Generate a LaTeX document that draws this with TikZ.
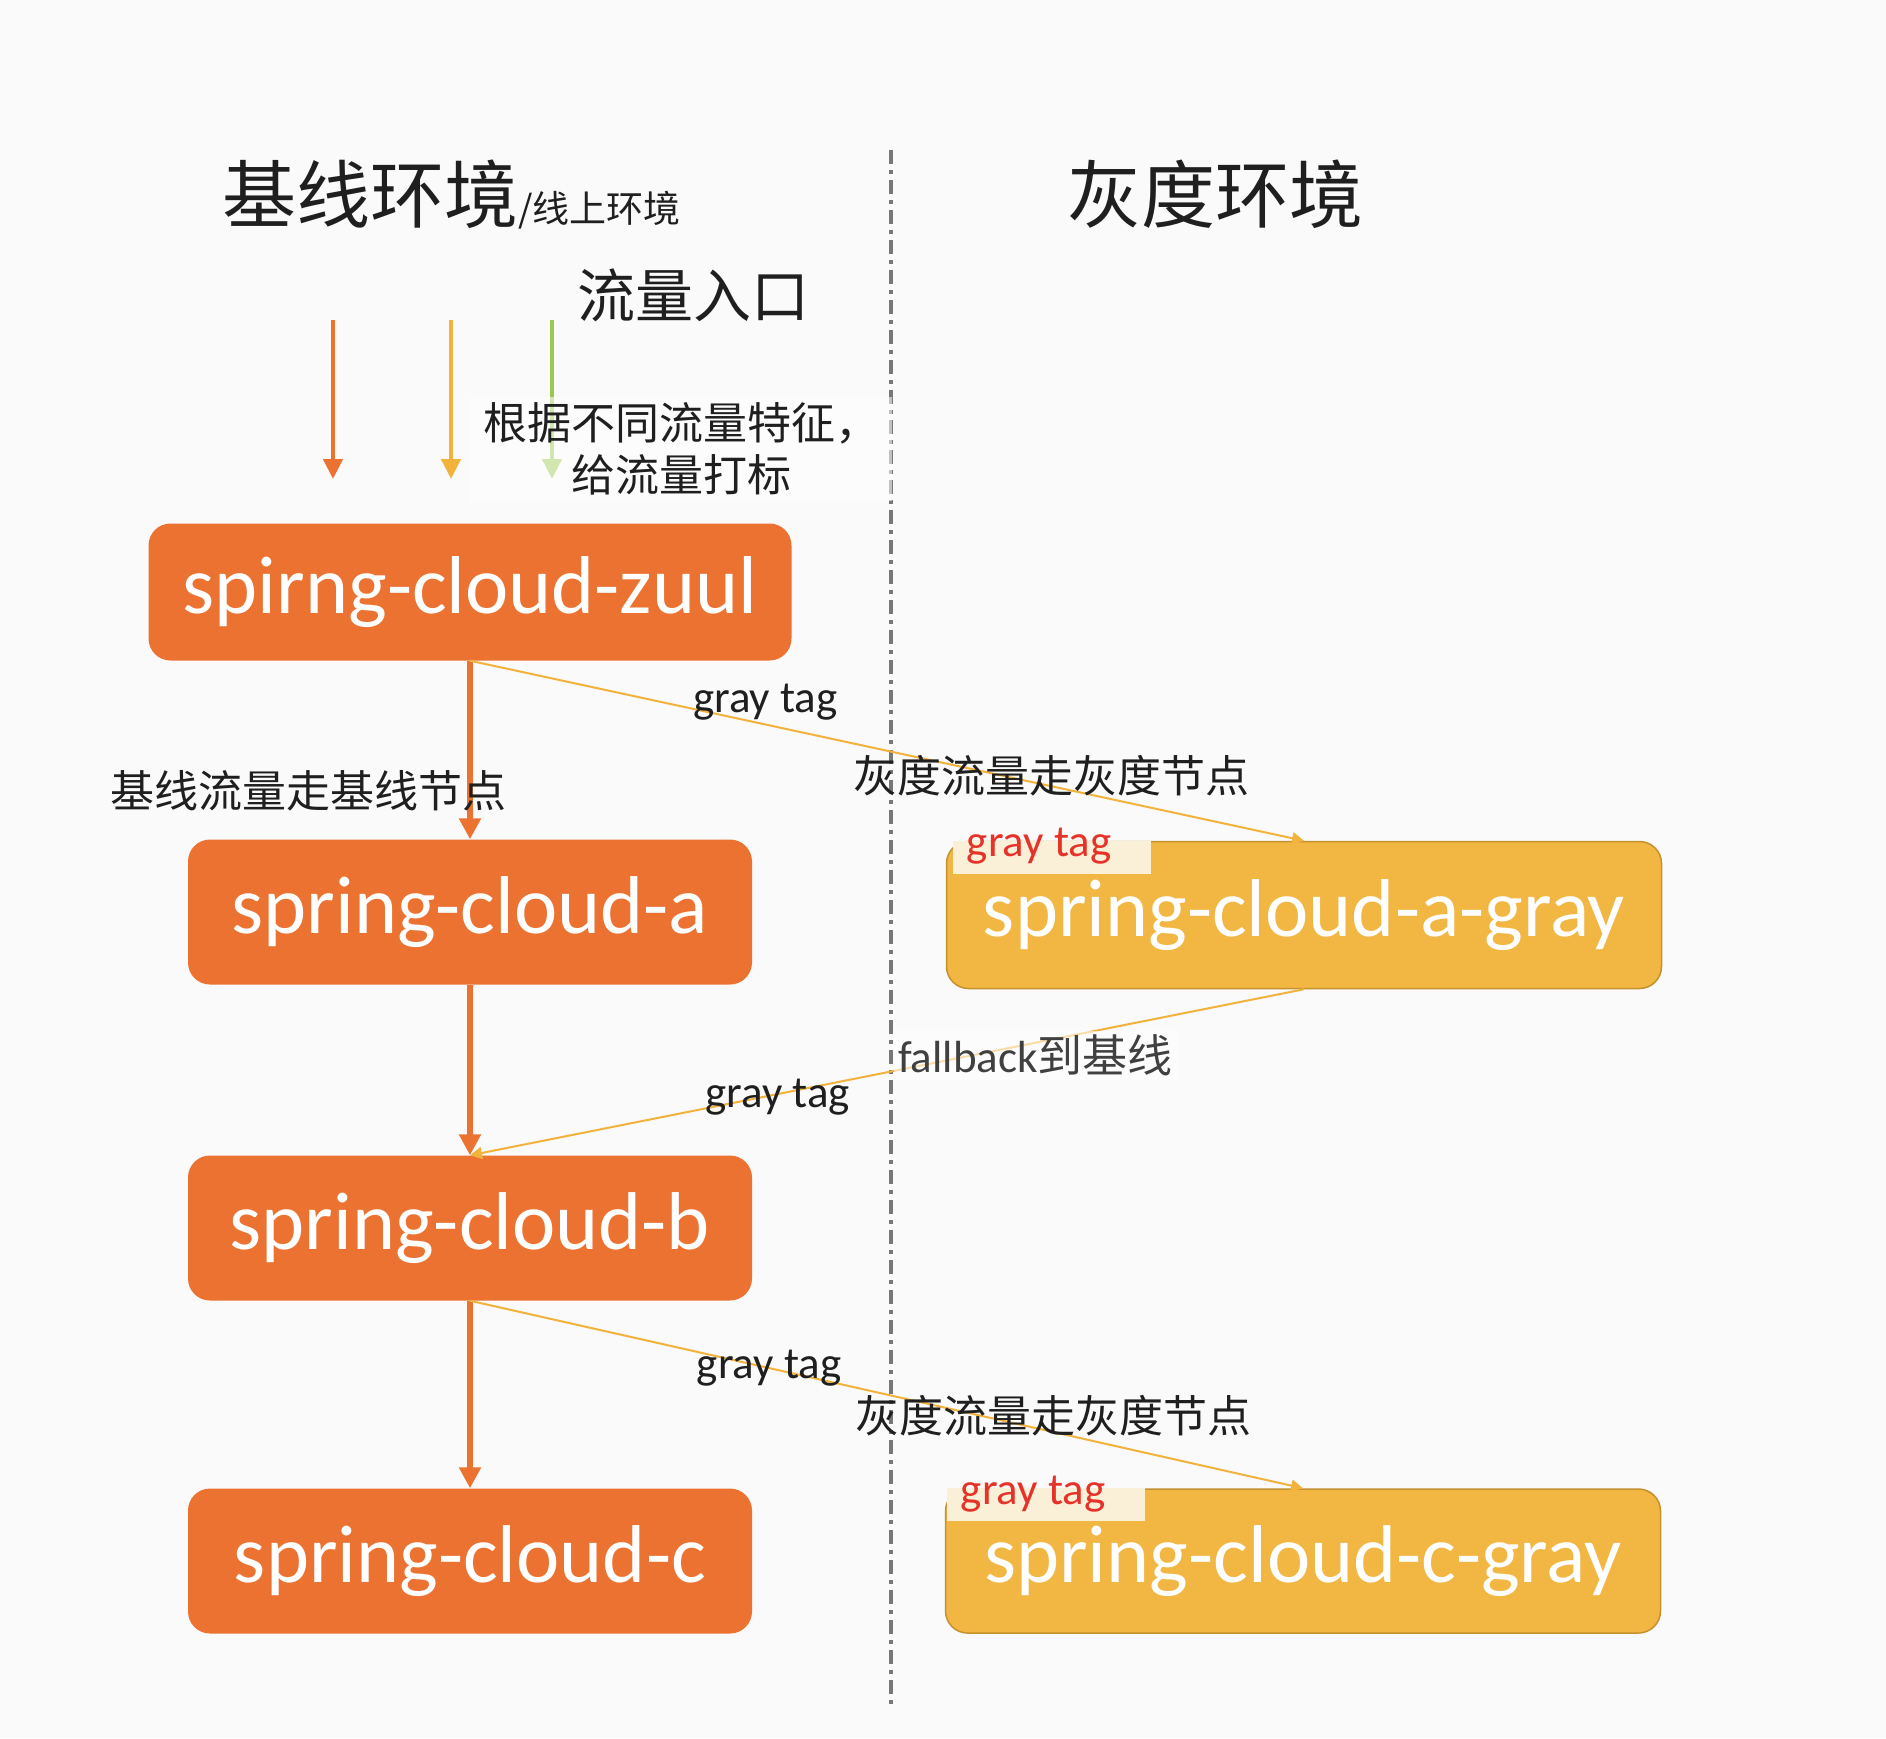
\documentclass[tikz,border=0pt]{standalone}
\usepackage{fontspec}
\setmainfont{Carlito}
\newfontfamily\cjk{Noto Sans CJK SC}
\usetikzlibrary{arrows.meta}

\definecolor{baseorange}{HTML}{EC7232}
\definecolor{grayfill}{HTML}{F2B643}
\definecolor{grayedge}{HTML}{C4922E}
\definecolor{tagfill}{HTML}{FAF0D8}
\definecolor{tagred}{HTML}{E5332A}
\definecolor{leafgreen}{HTML}{9CC850}
\definecolor{lineyellow}{HTML}{F2B33D}
\definecolor{bgwhite}{HTML}{FAFAFA}
\definecolor{splitgray}{HTML}{777777}

\tikzset{
  basebox/.style={rectangle, rounded corners=22pt, fill=baseorange, text=white,
    font=\fontsize{82}{90}\selectfont, minimum width=564pt, minimum height=145pt, inner sep=0pt},
  graybox/.style={basebox, fill=grayfill, draw=grayedge, line width=1.5pt, minimum width=715pt},
  tagbox/.style={rectangle, fill=tagfill, anchor=north west, minimum width=198pt, minimum height=33pt, inner sep=0pt},
  tagtext/.style={text=tagred, anchor=west, font=\fontsize{45}{50}\selectfont, inner sep=0pt},
  lbl/.style={font=\cjk\fontsize{44}{52}\selectfont, text=black!88},
  taglbl/.style={font=\fontsize{45}{50}\selectfont, text=black!88},
  mainflow/.style={baseorange, line width=6pt, -{Triangle[width=21pt,length=21pt]}},
  grayflow/.style={lineyellow, line width=2pt, -{Triangle[width=12pt,length=12pt]}}
}

\begin{document}
\begin{tikzpicture}[x=1pt, y=-1pt]
  \fill[bgwhite] (0,0) rectangle (1886,1738);

  % titles
  \node[anchor=base west, inner sep=0pt, text=black!88] (basetitle) at (222,222)
    {\cjk\fontsize{74}{80}\selectfont 基线环境\fontsize{37}{40}\selectfont /线上环境};
  \node[anchor=base west, inner sep=0pt, text=black!88] (graytitle) at (1067,222)
    {\cjk\fontsize{74}{80}\selectfont 灰度环境};
  \node[anchor=west, inner sep=0pt, text=black!88] (entry) at (577,295)
    {\cjk\fontsize{58}{64}\selectfont 流量入口};

  % split line
  \coordinate (top) at (891,150);
  \coordinate (bottom) at (891,1708);
  \draw[splitgray, line width=3.5pt, dash pattern=on 14pt off 6pt on 4pt off 6pt] (top) -- (bottom);

  % traffic in
  \foreach \x/\c [count=\i] in {333/baseorange, 451/lineyellow, 552/leafgreen} {
    \coordinate (in\i) at (\x,320);
    \coordinate (out\i) at (\x,479);
    \draw[\c, line width=4.5pt, -{Triangle[width=19pt,length=20pt]}] (in\i) -- (out\i);
  }
  \node[lbl, align=center, text width=410pt, inner sep=6pt, fill=white, fill opacity=0.55, text opacity=1] (mark) at (681,449)
    {根据不同流量特征，\\给流量打标};

  % nodes
  \node[basebox, minimum width=643pt, minimum height=137pt] (zuul) at (470,592) {spirng-cloud-zuul};
  \node[basebox] (a) at (470,912) {spring-cloud-a};
  \node[basebox] (b) at (470,1228) {spring-cloud-b};
  \node[basebox] (c) at (470,1561) {spring-cloud-c};
  \node[graybox, minimum height=147pt] (agray) at (1304,915) {spring-cloud-a-gray};
  \node[graybox, minimum height=144pt] (cgray) at (1303,1561) {spring-cloud-c-gray};

  \node[tagbox] (taga) at ([xshift=7pt]agray.north west) {};
  \node[tagtext] (tagatext) at ([xshift=14pt, yshift=11pt]taga.west) {gray tag};
  \node[tagbox] (tagc) at ([xshift=2pt]cgray.north west) {};
  \node[tagtext] (tagctext) at ([xshift=14pt, yshift=11pt]tagc.west) {gray tag};

  % base flow
  \draw[mainflow] (zuul.south) -- node[lbl, pos=.73, xshift=-162pt] {基线流量走基线节点} (a.north);
  \draw[mainflow] (a.south) -- (b.north);
  \draw[mainflow] (b.south) -- (c.north);

  % gray flow
  \draw[grayflow] (zuul.south) -- node[taglbl, pos=.354, yshift=22pt] {gray tag}
    node[lbl, pos=.697, yshift=10pt] {灰度流量走灰度节点} (agray.north);
  \draw[grayflow] (agray.south) -- node[taglbl, pos=.631, yshift=-3pt] {gray tag}
    node[pos=.322, yshift=-13pt, inner sep=4pt, fill=white, fill opacity=0.55, text opacity=1, text=black!75,
      font=\fontsize{45}{50}\selectfont] {fallback{\cjk 到基线}} (b.north);
  \draw[grayflow] (b.south) -- node[taglbl, pos=.359] {gray tag}
    node[lbl, pos=.701, yshift=16pt] {灰度流量走灰度节点} (cgray.north);
\end{tikzpicture}
\end{document}
